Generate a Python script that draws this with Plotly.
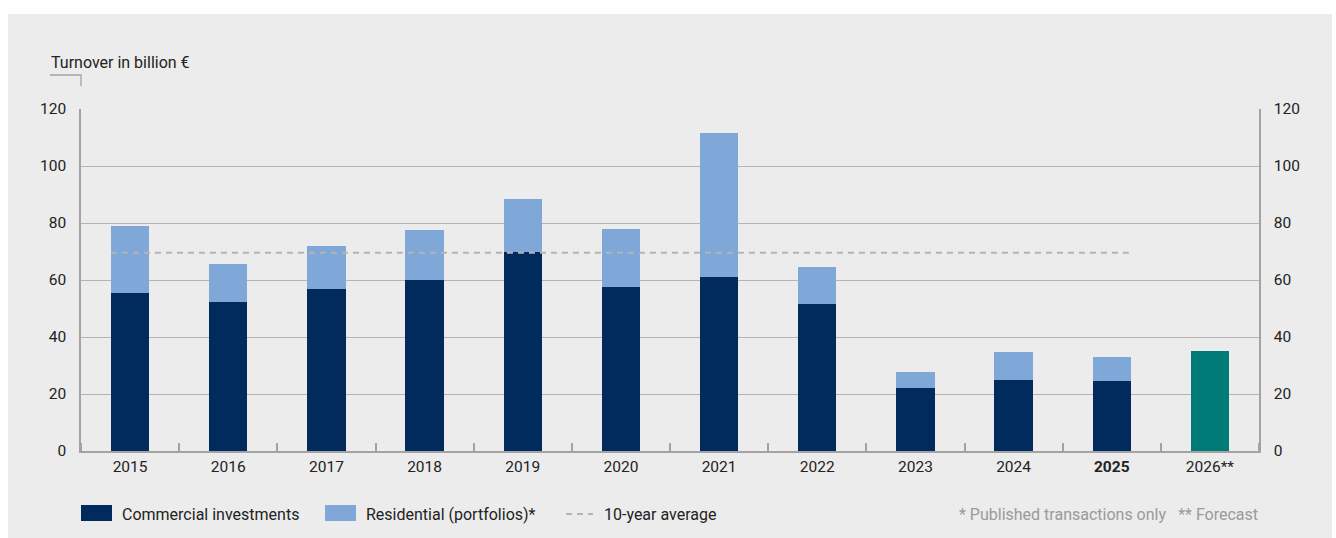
import plotly.graph_objects as go

# Investment turnover, billion €
years = ["2015", "2016", "2017", "2018", "2019", "2020", "2021", "2022",
         "2023", "2024", "2025", "2026**"]
commercial = [55.4, 52.3, 56.8, 60.0, 69.8, 57.5, 61.1, 51.6, 22.1, 24.9, 24.6, 35.0]
residential = [23.5, 13.3, 15.1, 17.5, 18.6, 20.4, 50.5, 13.0, 5.6, 9.8, 8.4, 0.0]
ten_year_avg = 69.6
avg_span = ["2015", "2025"]
y_ticks = [0, 20, 40, 60, 80, 100, 120]

NAVY = "#002B5C"
LIGHT = "#7FA8D8"
TEAL = "#007B78"
GRID = "#B4B4B4"
AXIS = "#A3A3A3"
TEXT = "#222222"
NOTE = "#9A9A9A"
FONT = "Roboto"

W, H = 1336, 538
L, R, T, B = 81, 1259, 109, 451
BAR_W = 0.39

xpos = list(range(len(years)))
tick_text = [f"<b>{y}</b>" if y == "2025" else y for y in years]
bar_colors = [TEAL if y.endswith("**") else NAVY for y in years]


def px2x(px):
    return (px - L) / (R - L)


def py2y(py):
    return (B - py) / (B - T)


fig = go.Figure()
fig.add_bar(x=xpos, y=commercial, marker_color=bar_colors, width=BAR_W,
            marker_line_width=0, name="Commercial investments")
fig.add_bar(x=xpos, y=residential, marker_color=LIGHT, width=BAR_W,
            marker_line_width=0, name="Residential (portfolios)*")

i0, i1 = years.index(avg_span[0]), years.index(avg_span[1])
fig.add_scatter(x=[i0 - BAR_W / 2, i1 + BAR_W / 2], y=[ten_year_avg, ten_year_avg],
                mode="lines", line=dict(color=GRID, width=2, dash="6px,5px"),
                name="10-year average", hoverinfo="skip")
# carrier for the right-hand value axis
fig.add_scatter(x=[0], y=[0], yaxis="y2", mode="markers", opacity=0,
                showlegend=False, hoverinfo="skip")

shapes = [
    # grey panel behind the chart
    dict(type="rect", xref="paper", yref="paper", layer="below",
         x0=px2x(8), x1=px2x(1332), y0=py2y(538), y1=py2y(14),
         fillcolor="#ECECEC", line_width=0),
    # bracket under the axis title
    dict(type="path", xref="paper", yref="paper",
         path=f"M {px2x(50)},{py2y(75)} L {px2x(81)},{py2y(75)} L {px2x(81)},{py2y(86)}",
         line=dict(color=AXIS, width=1.3)),
    # legend swatches
    dict(type="rect", xref="paper", yref="paper", x0=px2x(81), x1=px2x(112),
         y0=py2y(521), y1=py2y(505), fillcolor=NAVY, line_width=0),
    dict(type="rect", xref="paper", yref="paper", x0=px2x(325), x1=px2x(356),
         y0=py2y(521), y1=py2y(505), fillcolor=LIGHT, line_width=0),
    dict(type="line", xref="paper", yref="paper", x0=px2x(566), x1=px2x(593),
         y0=py2y(514), y1=py2y(514), line=dict(color=GRID, width=2, dash="6px,5px")),
]

label_font = dict(family=FONT, size=16, color=TEXT)
annotations = [
    dict(text="Turnover in billion €", xref="paper", yref="paper",
         x=px2x(49), y=py2y(62), xanchor="left", yanchor="middle", showarrow=False,
         font=label_font),
    dict(text="Commercial investments", xref="paper", yref="paper",
         x=px2x(120), y=py2y(514), xanchor="left", yanchor="middle", showarrow=False,
         font=label_font),
    dict(text="Residential (portfolios)*", xref="paper", yref="paper",
         x=px2x(364), y=py2y(514), xanchor="left", yanchor="middle", showarrow=False,
         font=label_font),
    dict(text="10-year average", xref="paper", yref="paper",
         x=px2x(602), y=py2y(514), xanchor="left", yanchor="middle", showarrow=False,
         font=label_font),
    dict(text="* Published transactions only\u2002 ** Forecast", xref="paper", yref="paper",
         x=px2x(1260), y=py2y(514), xanchor="right", yanchor="middle", showarrow=False,
         font=dict(family=FONT, size=16, color=NOTE)),
]

axis_font = dict(family=FONT, size=15.5, color=TEXT)

fig.update_layout(
    width=W, height=H,
    margin=dict(l=L, r=W - R, t=T, b=H - B, autoexpand=False),
    paper_bgcolor="white", plot_bgcolor="rgba(0,0,0,0)",
    barmode="stack", showlegend=False,
    font=dict(family=FONT, size=15.5, color=TEXT),
    shapes=shapes, annotations=annotations,
    xaxis=dict(range=[-0.5, len(years) - 0.5], tickvals=xpos, ticktext=tick_text,
               ticks="", showgrid=False, zeroline=False, showline=True,
               linecolor=AXIS, linewidth=1.5, tickfont=axis_font,
               ticklabelstandoff=1, fixedrange=True,
               minor=dict(ticks="inside", tick0=0.5, dtick=1, ticklen=8,
                          tickwidth=1.5, tickcolor=AXIS, showgrid=False)),
    yaxis=dict(range=[0, 120], tickvals=y_ticks, showgrid=True, gridcolor=GRID,
               gridwidth=1, zeroline=False, showline=True, linecolor=AXIS,
               linewidth=1.5, ticks="", tickfont=axis_font, ticklabelstandoff=10,
               fixedrange=True),
    yaxis2=dict(range=[0, 120], tickvals=y_ticks, overlaying="y", side="right",
                showgrid=False, zeroline=False, showline=True, linecolor=AXIS,
                linewidth=1.5, ticks="", tickfont=axis_font, ticklabelstandoff=10,
                fixedrange=True),
)

fig.write_html("out.html")
